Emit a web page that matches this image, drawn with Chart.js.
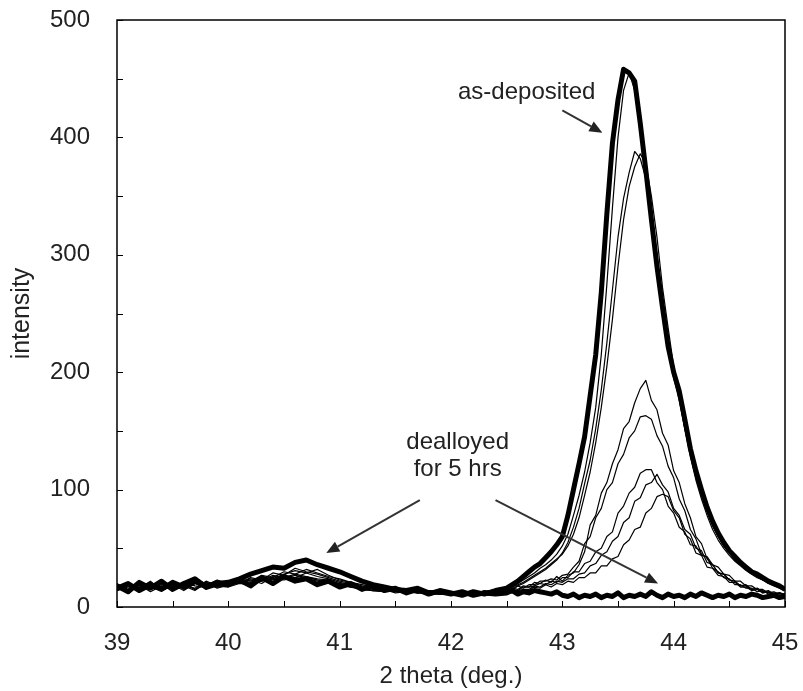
<!DOCTYPE html>
<html>
<head>
<meta charset="utf-8">
<script src="https://cdn.jsdelivr.net/npm/chart.js@4/dist/chart.umd.min.js"></script>
<style>
  html, body { margin: 0; padding: 0; background: #fff; }
  #wrap { width: 803px; height: 691px; }
</style>
</head>
<body>
<div id="wrap"><canvas id="xrd"></canvas></div>
<script>
// 2 theta grid (deg.) - 0.1 steps on the baseline, 0.05 through the peak
const twoTheta = [
  39.0, 39.1, 39.2, 39.3, 39.4, 39.5, 39.6, 39.7, 39.8, 39.9,
  40.0, 40.1, 40.2, 40.3, 40.4, 40.5, 40.6, 40.7, 40.8, 40.9,
  41.0, 41.1, 41.2, 41.3, 41.4, 41.5, 41.6, 41.7, 41.8, 41.9,
  42.0, 42.1, 42.2, 42.3, 42.4,
  42.5, 42.55, 42.6, 42.65, 42.7, 42.75, 42.8, 42.85, 42.9, 42.95,
  43.0, 43.05, 43.1, 43.15, 43.2, 43.25, 43.3, 43.35, 43.4, 43.45,
  43.5, 43.55, 43.6, 43.65, 43.7, 43.75, 43.8, 43.85, 43.9, 43.95,
  44.0, 44.05, 44.1, 44.15, 44.2, 44.25, 44.3, 44.35, 44.4, 44.45,
  44.5, 44.55, 44.6, 44.65, 44.7, 44.75, 44.8, 44.85, 44.9, 44.95, 45.0
]

// as-deposited (thick)
const asDeposited = [
  18, 13, 21, 16, 22, 15, 20, 24, 17, 21,
  19, 23, 18, 25, 20, 26, 22, 24, 19, 22,
  17, 20, 15, 18, 14, 16, 12, 15, 11, 14,
  12, 10, 13, 11, 14,
  16, 19, 22, 26, 30, 34, 37, 42, 47, 53,
  60, 78, 100, 122, 145, 180, 215, 268, 335, 395,
  432, 458, 455, 448, 412, 372, 330, 290, 255, 222,
  200, 184, 160, 135, 116, 100, 85, 73, 63, 55,
  48, 43, 38, 34, 30, 28, 25, 22, 20, 18, 15
]

// intermediate dealloying times (thin)
const scan2 = [
  17, 21, 14, 19, 16, 22, 15, 20, 18, 23,
  19, 24, 22, 27, 25, 30, 28, 32, 29, 26,
  24, 21, 19, 17, 16, 14, 15, 13, 14, 12,
  13, 11, 14, 12, 15,
  15, 17, 20, 23, 26, 29, 33, 36, 40, 45,
  52, 62, 78, 95, 115, 140, 170, 215, 275, 340,
  400, 440, 455, 440, 405, 365, 325, 285, 250, 218,
  195, 176, 152, 130, 110, 95, 82, 70, 60, 52,
  46, 40, 36, 32, 29, 26, 23, 21, 19, 17, 15
]
const scan3 = [
  15, 19, 16, 22, 14, 18, 20, 15, 21, 17,
  22, 20, 25, 23, 29, 27, 33, 30, 28, 25,
  22, 20, 17, 18, 15, 13, 14, 12, 13, 11,
  12, 14, 11, 13, 14,
  14, 16, 18, 20, 23, 26, 29, 32, 36, 40,
  46, 55, 68, 84, 105, 125, 152, 185, 225, 270,
  315, 348, 370, 388, 382, 365, 338, 300, 262, 228,
  198, 178, 152, 128, 108, 92, 78, 66, 57, 50,
  44, 39, 35, 31, 28, 25, 23, 20, 18, 16, 14
]
const scan4 = [
  20, 14, 18, 15, 21, 17, 19, 16, 22, 18,
  20, 23, 21, 26, 24, 28, 31, 29, 32, 27,
  23, 21, 18, 16, 17, 14, 13, 15, 12, 11,
  13, 12, 10, 13, 15,
  15, 17, 19, 21, 24, 27, 30, 33, 37, 41,
  45, 52, 62, 76, 95, 115, 140, 170, 205, 245,
  290, 330, 358, 375, 386, 378, 350, 315, 272, 238,
  205, 182, 158, 133, 112, 96, 82, 69, 60, 52,
  46, 41, 36, 32, 29, 26, 23, 21, 19, 17, 15
]
const scan5 = [
  14, 18, 20, 15, 19, 16, 21, 18, 17, 22,
  19, 21, 24, 22, 27, 25, 28, 26, 24, 23,
  20, 18, 16, 15, 14, 15, 13, 12, 14, 12,
  13, 11, 12, 13, 14,
  13, 16, 15, 18, 17, 21, 20, 23, 21, 26,
  22, 27, 29, 36, 47, 70, 78, 97, 106, 122,
  134, 152, 158, 174, 186, 193, 176, 168, 148, 138,
  116, 106, 88, 76, 60, 54, 41, 36, 29, 28,
  23, 22, 18, 19, 15, 16, 13, 14, 11, 12, 11
]
const scan6 = [
  19, 15, 17, 21, 16, 19, 14, 20, 17, 21,
  18, 22, 20, 24, 23, 27, 25, 29, 26, 24,
  21, 19, 17, 16, 14, 13, 15, 12, 13, 11,
  12, 13, 11, 14, 13,
  15, 14, 18, 16, 19, 19, 22, 22, 24, 23,
  27, 28, 34, 39, 54, 60, 76, 84, 100, 106,
  122, 130, 144, 150, 162, 163, 160, 146, 137, 120,
  110, 92, 82, 66, 58, 45, 42, 33, 30, 25,
  24, 19, 19, 16, 16, 13, 14, 11, 12, 10, 11
]
const scan7 = [
  16, 13, 19, 15, 20, 17, 18, 14, 21, 16,
  19, 21, 23, 20, 26, 24, 27, 25, 23, 22,
  19, 17, 16, 14, 13, 14, 12, 13, 11, 12,
  13, 12, 11, 12, 13,
  13, 15, 14, 17, 17, 18, 20, 19, 22, 21,
  25, 25, 30, 30, 37, 39, 47, 50, 60, 64,
  80, 86, 97, 102, 114, 117, 117, 106, 100, 86,
  80, 68, 64, 53, 52, 44, 43, 36, 34, 28,
  27, 22, 22, 18, 18, 15, 15, 12, 13, 11, 11
]
const scan8 = [
  17, 20, 15, 18, 14, 19, 16, 21, 15, 18,
  17, 20, 19, 23, 21, 25, 24, 26, 23, 21,
  20, 18, 15, 14, 15, 12, 13, 12, 11, 12,
  11, 10, 12, 13, 12,
  12, 14, 14, 15, 15, 18, 17, 20, 19, 22,
  21, 24, 24, 28, 29, 35, 37, 44, 47, 56,
  60, 72, 76, 90, 93, 104, 106, 113, 104, 98,
  84, 78, 66, 62, 50, 48, 38, 36, 29, 28,
  23, 22, 18, 18, 15, 16, 12, 13, 11, 12, 10
]
const scan9 = [
  14, 17, 19, 13, 18, 16, 20, 15, 19, 17,
  18, 21, 20, 22, 24, 23, 25, 24, 22, 20,
  19, 17, 15, 14, 13, 14, 12, 13, 12, 11,
  12, 12, 11, 12, 13,
  12, 14, 13, 14, 14, 17, 16, 19, 17, 20,
  19, 22, 21, 25, 25, 29, 29, 35, 35, 41,
  43, 53, 57, 66, 68, 80, 84, 94, 96, 94,
  82, 76, 62, 58, 46, 44, 34, 33, 27, 26,
  21, 21, 17, 17, 14, 15, 12, 13, 10, 12, 10
]

// dealloyed for 5 hrs (thick)
const dealloyed5h = [
  16, 20, 14, 19, 15, 21, 17, 22, 18, 20,
  21, 24, 28, 31, 34, 33, 38, 40, 36, 33,
  30, 26, 22, 19, 17, 15, 14, 16, 12, 13,
  11, 13, 10, 12, 11,
  12, 14, 11, 13, 12, 14, 13, 12, 11, 13,
  10, 9, 11, 8, 10, 9, 11, 8, 10, 9,
  12, 8, 10, 9, 11, 9, 13, 10, 8, 11,
  9, 10, 8, 11, 9, 12, 10, 8, 10, 9,
  11, 8, 10, 9, 11, 10, 8, 9, 10, 8, 9
]

// labels and arrows, in data units
const notes = [
  { text: 'as-deposited', x: 42.68, y: 438 },
  { text: 'dealloyed', x: 42.06, y: 140 },
  { text: 'for 5 hrs', x: 42.06, y: 117 }
]
const arrows = [
  { from: [43.0, 423], to: [43.36, 404] },
  { from: [41.72, 91], to: [40.88, 46] },
  { from: [42.4, 91], to: [43.86, 20] }
]

const FONT = "'Liberation Sans', Arial, sans-serif"
const TEXT = '#222'

function series(label, values, thick) {
  return {
    label: label,
    data: values.map((v, i) => ({ x: twoTheta[i], y: v })),
    borderColor: '#000',
    borderWidth: thick ? 5 : 1.2,
    pointRadius: 0,
    tension: 0,
    borderJoinStyle: 'round'
  }
}

// inward ticks, frame box and the annotations
const frameAndNotes = {
  id: 'frameAndNotes',
  afterDraw(chart) {
    const { ctx, chartArea: a, scales: { x, y } } = chart
    ctx.save()
    ctx.strokeStyle = '#000'
    ctx.lineWidth = 1
    ctx.beginPath()
    x.ticks.forEach(t => {
      const px = Math.round(x.getPixelForValue(t.value)) + 0.5
      ctx.moveTo(px, a.bottom)
      ctx.lineTo(px, a.bottom - 6)
    })
    y.ticks.forEach(t => {
      const py = Math.round(y.getPixelForValue(t.value)) + 0.5
      ctx.moveTo(a.left, py)
      ctx.lineTo(a.left + 6, py)
    })
    ctx.stroke()
    ctx.lineWidth = 1.5
    ctx.strokeRect(a.left, a.top, a.right - a.left, a.bottom - a.top)

    ctx.fillStyle = TEXT
    ctx.font = '24px ' + FONT
    ctx.textAlign = 'center'
    ctx.textBaseline = 'middle'
    notes.forEach(n => {
      ctx.fillText(n.text, x.getPixelForValue(n.x), y.getPixelForValue(n.y))
    })

    ctx.strokeStyle = '#333'
    ctx.fillStyle = '#222'
    ctx.lineWidth = 2
    arrows.forEach(ar => {
      const x1 = x.getPixelForValue(ar.from[0]), y1 = y.getPixelForValue(ar.from[1])
      const x2 = x.getPixelForValue(ar.to[0]), y2 = y.getPixelForValue(ar.to[1])
      const ang = Math.atan2(y2 - y1, x2 - x1)
      const len = 13, half = 5.5
      const bx = x2 - len * Math.cos(ang), by = y2 - len * Math.sin(ang)
      ctx.beginPath()
      ctx.moveTo(x1, y1)
      ctx.lineTo(bx, by)
      ctx.stroke()
      ctx.beginPath()
      ctx.moveTo(x2, y2)
      ctx.lineTo(bx + half * Math.sin(ang), by - half * Math.cos(ang))
      ctx.lineTo(bx - half * Math.sin(ang), by + half * Math.cos(ang))
      ctx.closePath()
      ctx.fill()
    })
    ctx.restore()
  }
}

new Chart(document.getElementById('xrd'), {
  type: 'line',
  data: {
    datasets: [
      series('as-deposited', asDeposited, true),
      series('dealloyed 5 hrs', dealloyed5h, true),
      series('scan 2', scan2, false),
      series('scan 3', scan3, false),
      series('scan 4', scan4, false),
      series('scan 5', scan5, false),
      series('scan 6', scan6, false),
      series('scan 7', scan7, false),
      series('scan 8', scan8, false),
      series('scan 9', scan9, false)
    ]
  },
  options: {
    responsive: true,
    maintainAspectRatio: false,
    animation: false,
    layout: { padding: { top: 20, right: 18, bottom: 0, left: 0 } },
    plugins: {
      legend: { display: false },
      tooltip: { enabled: false }
    },
    scales: {
      x: {
        type: 'linear',
        min: 39,
        max: 45,
        grid: { display: false, drawTicks: false },
        border: { display: false },
        ticks: {
          stepSize: 0.5,
          autoSkip: false,
          maxRotation: 0,
          padding: 22,
          color: TEXT,
          font: { family: FONT, size: 24 },
          callback: v => Number.isInteger(v) ? v : ''
        },
        title: {
          display: true,
          text: '2 theta (deg.)',
          color: TEXT,
          font: { family: FONT, size: 24 },
          padding: { top: 0, bottom: 0 }
        },
        afterFit: s => {
          s.height = 84
          s.paddingLeft = 0
          s.paddingRight = 0
          s.paddingTop = 0
          s.paddingBottom = 0
        }
      },
      y: {
        min: 0,
        max: 500,
        grid: { display: false, drawTicks: false },
        border: { display: false },
        ticks: {
          stepSize: 50,
          autoSkip: false,
          padding: 27,
          color: TEXT,
          font: { family: FONT, size: 24 },
          callback: v => v % 100 === 0 ? v : ''
        },
        title: {
          display: true,
          text: 'intensity',
          color: TEXT,
          font: { family: FONT, size: 25 },
          padding: { top: 7, bottom: 0 }
        },
        afterFit: s => {
          s.width = 117
          s.paddingLeft = 0
          s.paddingRight = 0
          s.paddingTop = 0
          s.paddingBottom = 0
        }
      }
    }
  },
  plugins: [frameAndNotes]
})
</script>
</body>
</html>
